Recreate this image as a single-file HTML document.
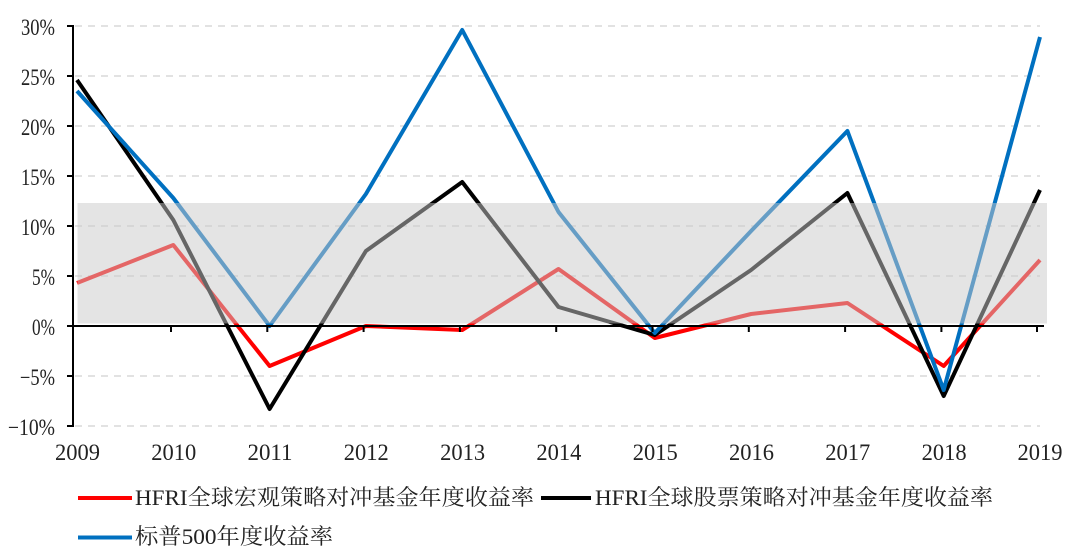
<!DOCTYPE html>
<html><head><meta charset="utf-8"><style>
html,body{margin:0;padding:0;background:#fff;}
svg{display:block;}
text{font-family:"Liberation Serif","Noto Serif CJK SC",serif;fill:#222;}
.cj{font-family:"Liberation Serif","Noto Serif CJK SC",serif;}
</style></head><body>
<svg width="1080" height="553" viewBox="0 0 1080 553" xmlns="http://www.w3.org/2000/svg">
<rect width="1080" height="553" fill="#fff"/>
<!-- gridlines -->
<g stroke="#d9d9d9" stroke-width="1.6" stroke-dasharray="7 6">
<line x1="75" y1="26" x2="1040" y2="26"/>
<line x1="75" y1="76" x2="1040" y2="76"/>
<line x1="75" y1="126" x2="1040" y2="126"/>
<line x1="75" y1="176" x2="1040" y2="176"/>
<line x1="75" y1="226" x2="1040" y2="226"/>
<line x1="75" y1="276" x2="1040" y2="276"/>
<line x1="75" y1="376" x2="1040" y2="376"/>
<line x1="75" y1="426" x2="1040" y2="426"/>
</g>
<!-- series -->
<g fill="none" stroke-width="4" stroke-linejoin="round" stroke-linecap="butt">
<polyline stroke="#ff0000" points="77,283 173.3,245 269.6,366 365.9,326 462.2,330 558.5,269 654.8,338 751.1,314 847.4,303 943.7,366 1040,260"/>
<polyline stroke="#000000" points="77,80 173.3,220 269.6,409 365.9,251 462.2,182 558.5,307 654.8,335 751.1,270 847.4,193 943.7,396 1040,190"/>
<polyline stroke="#0070c0" points="77,91 173.3,198 269.6,326 365.9,194 462.2,30 558.5,212 654.8,333 751.1,231 847.4,131 943.7,390 1040,37"/>
</g>
<!-- overlay box -->
<rect x="77.5" y="203" width="969.5" height="120.5" fill="rgb(202,202,202)" fill-opacity="0.506"/>
<!-- axes -->
<g stroke="#000" stroke-width="2">
<line x1="73" y1="25" x2="73" y2="427"/>
<line x1="72" y1="326" x2="1044" y2="326"/>
<line x1="67" y1="26" x2="73" y2="26"/>
<line x1="67" y1="76" x2="73" y2="76"/>
<line x1="67" y1="126" x2="73" y2="126"/>
<line x1="67" y1="176" x2="73" y2="176"/>
<line x1="67" y1="226" x2="73" y2="226"/>
<line x1="67" y1="276" x2="73" y2="276"/>
<line x1="67" y1="326" x2="73" y2="326"/>
<line x1="67" y1="376" x2="73" y2="376"/>
<line x1="67" y1="426" x2="73" y2="426"/>
<line x1="171" y1="326" x2="171" y2="332"/>
<line x1="267.3" y1="326" x2="267.3" y2="332"/>
<line x1="363.6" y1="326" x2="363.6" y2="332"/>
<line x1="459.9" y1="326" x2="459.9" y2="332"/>
<line x1="556.2" y1="326" x2="556.2" y2="332"/>
<line x1="652.5" y1="326" x2="652.5" y2="332"/>
<line x1="748.8" y1="326" x2="748.8" y2="332"/>
<line x1="845.1" y1="326" x2="845.1" y2="332"/>
<line x1="941.4" y1="326" x2="941.4" y2="332"/>
<line x1="1037" y1="326" x2="1037" y2="332"/>
</g>
<!-- y labels -->
<g font-size="23" text-anchor="end">
<text x="55" y="35" textLength="34" lengthAdjust="spacingAndGlyphs">30%</text>
<text x="55" y="85" textLength="34" lengthAdjust="spacingAndGlyphs">25%</text>
<text x="55" y="135" textLength="34" lengthAdjust="spacingAndGlyphs">20%</text>
<text x="55" y="185" textLength="34" lengthAdjust="spacingAndGlyphs">15%</text>
<text x="55" y="235" textLength="34" lengthAdjust="spacingAndGlyphs">10%</text>
<text x="55" y="285" textLength="23" lengthAdjust="spacingAndGlyphs">5%</text>
<text x="55" y="335" textLength="23" lengthAdjust="spacingAndGlyphs">0%</text>
<text x="55" y="385" textLength="35" lengthAdjust="spacingAndGlyphs">−5%</text>
<text x="55" y="435" textLength="47" lengthAdjust="spacingAndGlyphs">−10%</text>
</g>
<!-- x labels -->
<g font-size="23" text-anchor="middle">
<text x="77.5" y="460" textLength="45" lengthAdjust="spacingAndGlyphs">2009</text>
<text x="173.8" y="460" textLength="45" lengthAdjust="spacingAndGlyphs">2010</text>
<text x="270" y="460" textLength="45" lengthAdjust="spacingAndGlyphs">2011</text>
<text x="366.3" y="460" textLength="45" lengthAdjust="spacingAndGlyphs">2012</text>
<text x="462.6" y="460" textLength="45" lengthAdjust="spacingAndGlyphs">2013</text>
<text x="558.9" y="460" textLength="45" lengthAdjust="spacingAndGlyphs">2014</text>
<text x="655.2" y="460" textLength="45" lengthAdjust="spacingAndGlyphs">2015</text>
<text x="751.5" y="460" textLength="45" lengthAdjust="spacingAndGlyphs">2016</text>
<text x="847.8" y="460" textLength="45" lengthAdjust="spacingAndGlyphs">2017</text>
<text x="944.1" y="460" textLength="45" lengthAdjust="spacingAndGlyphs">2018</text>
<text x="1040" y="460" textLength="45" lengthAdjust="spacingAndGlyphs">2019</text>
</g>
<!-- legend -->
<line x1="78" y1="498" x2="132" y2="498" stroke="#ff0000" stroke-width="4"/>
<text class="cj" x="135" y="505" font-size="22" textLength="399" lengthAdjust="spacingAndGlyphs">HFRI全球宏观策略对冲基金年度收益率</text>
<line x1="541" y1="498" x2="591" y2="498" stroke="#000" stroke-width="4"/>
<text class="cj" x="595" y="505" font-size="22" textLength="398" lengthAdjust="spacingAndGlyphs">HFRI全球股票策略对冲基金年度收益率</text>
<line x1="78" y1="537.5" x2="132" y2="537.5" stroke="#0070c0" stroke-width="4"/>
<text class="cj" x="135" y="544" font-size="22" textLength="198" lengthAdjust="spacingAndGlyphs">标普500年度收益率</text>
</svg>
</body></html>
